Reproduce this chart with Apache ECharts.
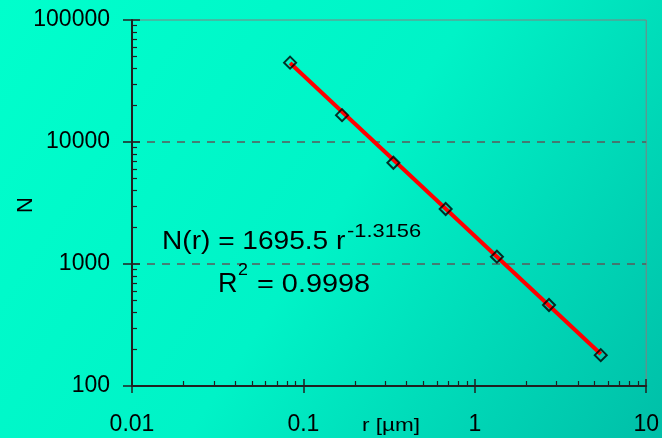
<!DOCTYPE html>
<html>
<head>
<meta charset="utf-8">
<script src="https://cdn.jsdelivr.net/npm/echarts@6/dist/echarts.min.js"></script>
<style>
  html, body { margin: 0; padding: 0; }
  #chart { width: 662px; height: 438px; }
</style>
</head>
<body>
<div id="chart"></div>
<script>
// measured points (r in µm, N)
const pointR = [0.0836, 0.168, 0.335, 0.676, 1.346, 2.71, 5.43];
const pointN = [44700, 16600, 6760, 2825, 1148, 461, 179];
// power-law trend line end points
const fitR = [0.0836, 5.43];
const fitN = [44400, 183];

const xMajor = [0.01, 0.1, 1, 10];
const xTickLabels = ['0.01', '0.1', '1', '10'];
const xMinor = [0.02, 0.03, 0.04, 0.05, 0.06, 0.07, 0.08, 0.09,
                0.2, 0.3, 0.4, 0.5, 0.6, 0.7, 0.8, 0.9,
                2, 3, 4, 5, 6, 7, 8, 9];
const yMajor = [100, 1000, 10000, 100000];
const yTickLabels = ['100', '1000', '10000', '100000'];
const yGridLines = [1000, 10000];
const yMinor = [200, 300, 400, 500, 600, 700, 800, 900,
                2000, 3000, 4000, 5000, 6000, 7000, 8000, 9000,
                20000, 30000, 40000, 50000, 60000, 70000, 80000, 90000];

const FONT = '"Liberation Sans", Arial, sans-serif';
const AXIS_COLOR = '#202020';

const chart = echarts.init(document.getElementById('chart'));

function logX(extra) {
    return Object.assign({
        type: 'log', logBase: 10, min: 0.01, max: 10, gridIndex: 0, position: 'bottom',
        axisLine: { show: false }, axisLabel: { show: false },
        splitLine: { show: false }, axisTick: { show: false }
    }, extra);
}
function logY(extra) {
    return Object.assign({
        type: 'log', logBase: 10, min: 100, max: 100000, gridIndex: 0, position: 'left',
        axisLine: { show: false }, axisLabel: { show: false },
        splitLine: { show: false }, axisTick: { show: false }
    }, extra);
}

// text drawn with a slight horizontal stretch like the original
function label(text, x, y, size, sx) {
    return {
        type: 'text', x: x, y: y, scaleX: sx, z: 10,
        style: { text: text, fontSize: size, fontFamily: FONT, fill: '#000',
                 align: 'left', verticalAlign: 'top' }
    };
}

const option = {
    animation: false,
    backgroundColor: new echarts.graphic.LinearGradient(0, 0, 1, 1, [
        { offset: 0, color: '#00ffcc' },
        { offset: 0.5, color: '#00f3c7' },
        { offset: 1, color: '#00bfa8' }
    ]),
    grid: {
        left: 132, right: 13, top: 20, bottom: 52,
        show: true, borderColor: '#808080', borderWidth: 1,
        backgroundColor: 'transparent'
    },
    xAxis: [
        logX({
            axisLine: { show: true, lineStyle: { color: AXIS_COLOR, width: 2 } },
            axisTick: { show: true, inside: false, length: 7, customValues: xMajor,
                        lineStyle: { color: AXIS_COLOR, width: 1.5 } },
            axisLabel: { show: true, customValues: xMajor, margin: 27,
                         color: '#000', fontSize: 23, fontFamily: FONT,
                         formatter: (v, i) => xTickLabels[xMajor.indexOf(v)] ?? xTickLabels[i] }
        }),
        logX({
            axisTick: { show: true, inside: true, length: 7, customValues: xMajor,
                        lineStyle: { color: AXIS_COLOR, width: 1.5 } }
        }),
        logX({
            axisTick: { show: true, inside: true, length: 5, customValues: xMinor,
                        lineStyle: { color: AXIS_COLOR, width: 1.2 } }
        })
    ],
    yAxis: [
        logY({
            axisLine: { show: true, lineStyle: { color: AXIS_COLOR, width: 2 } },
            axisTick: { show: true, inside: false, length: 9, customValues: yMajor,
                        lineStyle: { color: AXIS_COLOR, width: 1.5 } },
            axisLabel: { show: true, customValues: yMajor, margin: 22,
                         color: '#000', fontSize: 23, fontFamily: FONT,
                         formatter: (v, i) => yTickLabels[yMajor.indexOf(v)] ?? yTickLabels[i] }
        }),
        logY({
            axisTick: { show: true, inside: true, length: 8, customValues: yMajor,
                        lineStyle: { color: AXIS_COLOR, width: 1.5 } }
        }),
        logY({
            axisTick: { show: true, inside: true, length: 5, customValues: yMinor,
                        lineStyle: { color: AXIS_COLOR, width: 1.2 } }
        }),
        // dashed grid lines only at 1000 and 10000
        logY({
            axisTick: { show: false, customValues: yGridLines },
            splitLine: { show: true, lineStyle: { color: '#5a5a5a', width: 1.5, type: [8, 7] } }
        })
    ],
    series: [
        {
            type: 'line',
            xAxisIndex: 0, yAxisIndex: 0,
            data: fitR.map((r, i) => [r, fitN[i]]),
            symbol: 'none',
            lineStyle: { color: '#ff0000', width: 4 },
            z: 3
        },
        {
            type: 'scatter',
            xAxisIndex: 0, yAxisIndex: 0,
            data: pointR.map((r, i) => [r, pointN[i]]),
            symbol: 'diamond',
            symbolSize: 12,
            itemStyle: { color: 'rgba(0,0,0,0)', borderColor: '#000', borderWidth: 2 },
            z: 4
        }
    ],
    graphic: [
        label('N(r) = 1695.5 r', 162, 229, 26, 1.08),
        label('-1.3156', 347, 222, 19, 1.15),
        label('R', 218, 271, 27, 1),
        label('2', 238, 262, 17, 1.05),
        label('= 0.9998', 257, 272, 26, 1.11),
        label('r [µm]', 362, 417, 18, 1.25),
        { type: 'text', x: 15, y: 213, rotation: Math.PI / 2,
          style: { text: 'N', fontSize: 22, fontFamily: FONT, fill: '#000' } }
    ]
};

chart.setOption(option);
</script>
</body>
</html>
